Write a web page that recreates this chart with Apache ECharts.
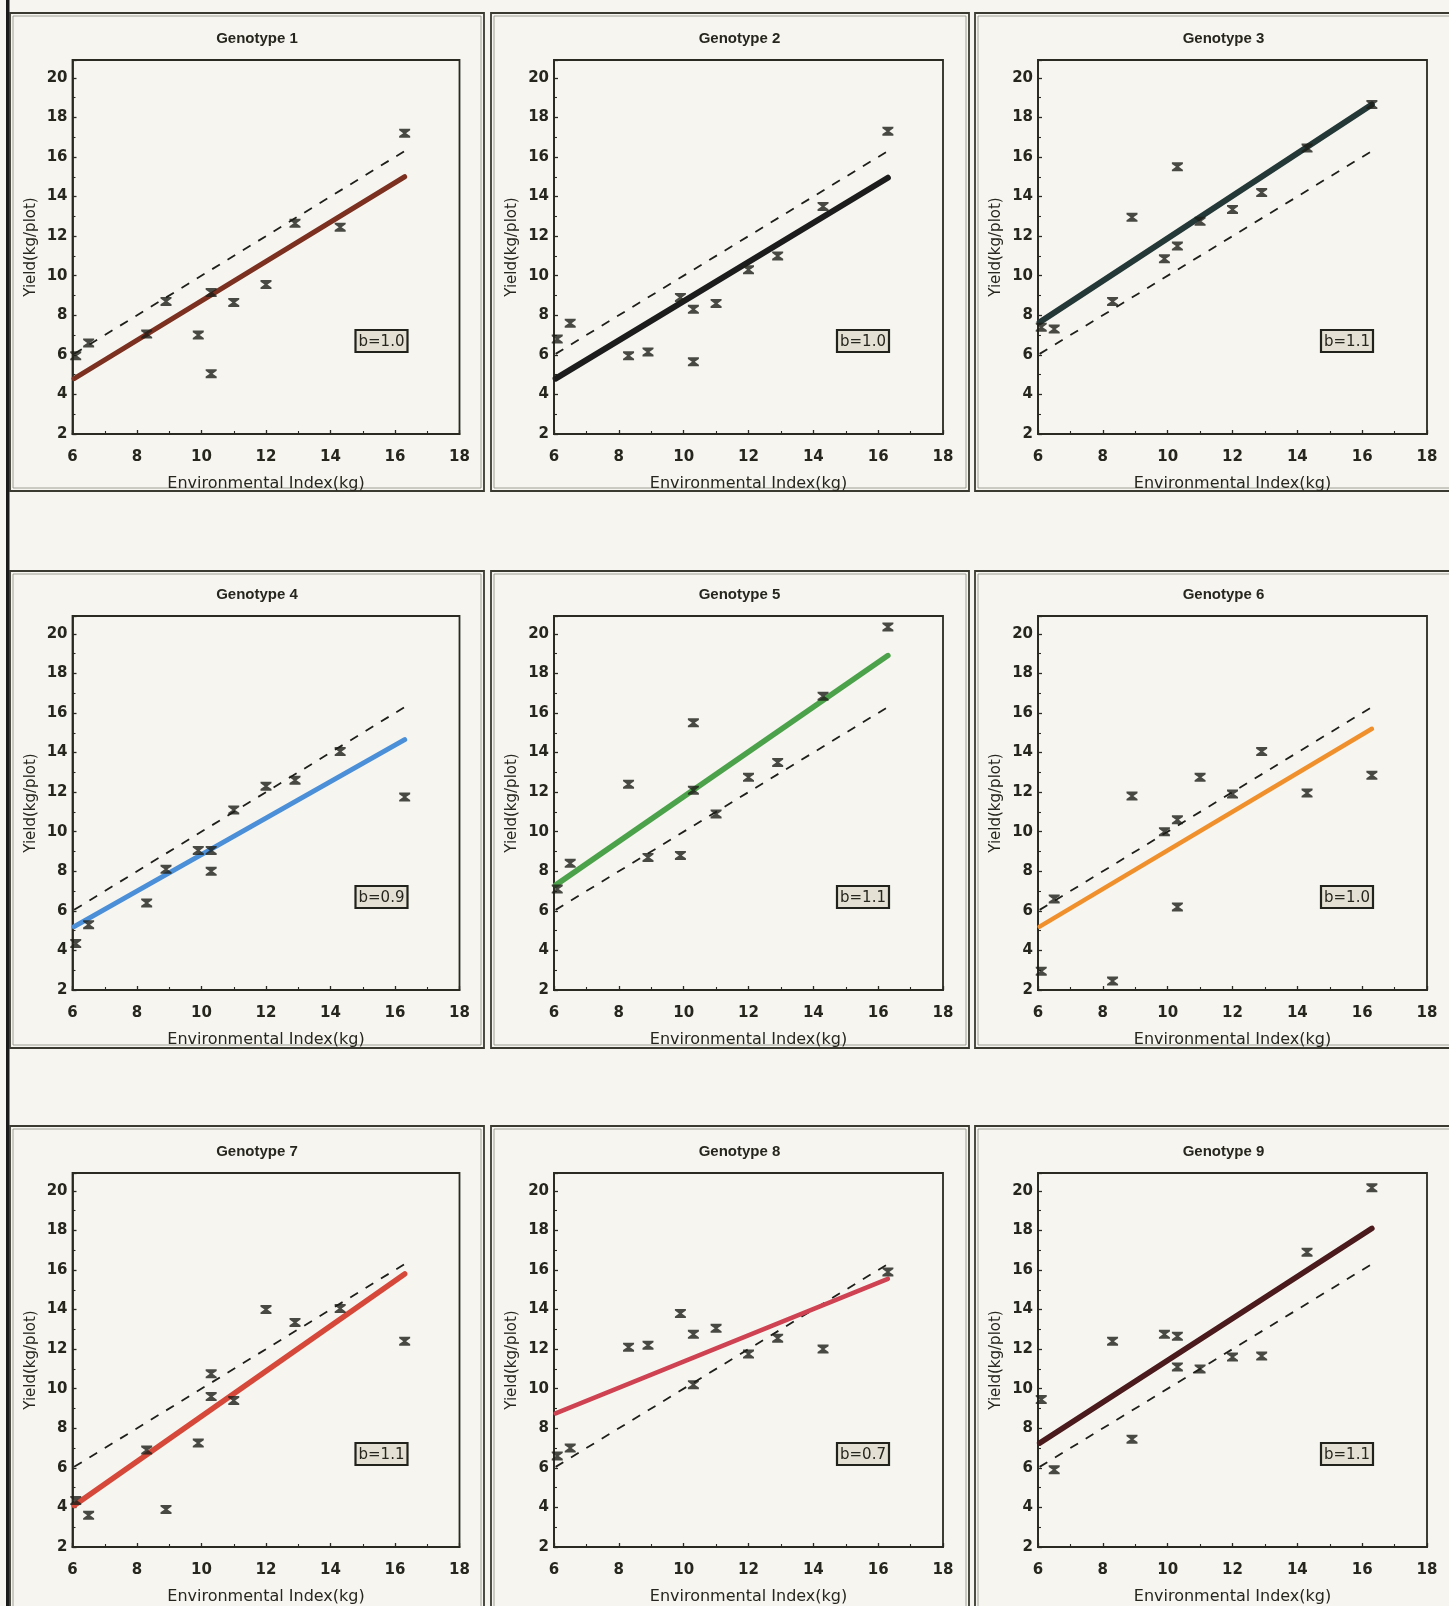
<!DOCTYPE html>
<html>
<head>
<meta charset="utf-8">
<script src="https://cdn.jsdelivr.net/npm/echarts@6/dist/echarts.min.js"></script>
<style>
html,body{margin:0;padding:0;background:#f6f5f0;}
#chart{width:1449px;height:1606px;}
</style>
</head>
<body>
<div id="chart"></div>
<script>
// ---- data ----
const genotypes = ['Genotype 1','Genotype 2','Genotype 3','Genotype 4','Genotype 5','Genotype 6','Genotype 7','Genotype 8','Genotype 9'];
const envIndex = [6.1, 6.5, 8.3, 8.9, 9.9, 10.3, 10.3, 11.0, 12.0, 12.9, 14.3, 16.3];
const yieldG1 = [5.95, 6.6, 7.05, 8.7, 7.0, 5.05, 9.15, 8.65, 9.55, 12.65, 12.45, 17.2];
const yieldG2 = [6.8, 7.6, 5.95, 6.15, 8.9, 8.3, 5.65, 8.6, 10.3, 11.0, 13.5, 17.3];
const yieldG3 = [7.4, 7.3, 8.7, 12.95, 10.85, 11.5, 15.5, 12.75, 13.35, 14.2, 16.45, 18.65];
const yieldG4 = [4.35, 5.3, 6.4, 8.1, 9.05, 8.0, 9.05, 11.1, 12.3, 12.6, 14.05, 11.75];
const yieldG5 = [7.1, 8.4, 12.4, 8.7, 8.8, 12.1, 15.5, 10.9, 12.75, 13.5, 16.85, 20.35];
const yieldG6 = [2.95, 6.6, 2.45, 11.8, 10.0, 6.2, 10.6, 12.75, 11.9, 14.05, 11.95, 12.85];
const yieldG7 = [4.35, 3.6, 6.9, 3.9, 7.25, 9.6, 10.75, 9.4, 14.0, 13.35, 14.05, 12.4];
const yieldG8 = [6.6, 7.0, 12.1, 12.2, 13.8, 10.2, 12.75, 13.05, 11.75, 12.55, 12.0, 15.9];
const yieldG9 = [9.45, 5.9, 12.4, 7.45, 12.75, 11.1, 12.65, 11.0, 11.6, 11.65, 16.9, 20.15];
// regression line ends (x range of the lines, y at start and end)
const lineRange = [6.05, 16.3];
const fitStart = [4.8, 4.8, 7.65, 5.2, 7.3, 5.2, 4.1, 8.75, 7.25];
const fitEnd   = [15.0, 14.95, 18.65, 14.65, 18.9, 15.2, 15.8, 15.55, 18.1];
const bLabels = ['b=1.0','b=1.0','b=1.1','b=0.9','b=1.1','b=1.0','b=1.1','b=0.7','b=1.1'];
const xTickMin = 6, xTickMax = 18, xTickStep = 2;
const yTickMin = 2, yTickMax = 20.9, yTickStep = 2;
const xTitle = 'Environmental Index(kg)';
const yTitle = 'Yield(kg/plot)';

// ---- styling / layout ----
const yields = [yieldG1,yieldG2,yieldG3,yieldG4,yieldG5,yieldG6,yieldG7,yieldG8,yieldG9];
const lineColors = ['#7c3020','#1c1c1c','#243838','#4a8fd8','#4ca24a','#f0902c','#d6493a','#cf4252','#4a1a1c'];
const lineWidths = [5, 6, 6, 5, 5.5, 4.5, 5.5, 4.5, 5.5];
const colLefts = [72.5, 554, 1038];
const colWidths = [387, 389, 389];
const rowTops = [60, 616, 1173];
const gridH = 374;
const boxX = [[10,484],[491,969],[975,1455]];
const boxY = [[13,491],[571,1048],[1126,1612]];
const ink = '#2a2a22';
const hourglass = 'path://M0,0H10V1.8L6.3,5L10,8.2V10H0V8.2L3.7,5L0,1.8Z';

const grids=[], xAxes=[], yAxes=[], series=[], titles=[], graphics=[];

// left page bar
graphics.push({type:'rect', shape:{x:6,y:0,width:3.5,height:1606}, style:{fill:'#1a1a1a'}, silent:true});
// panel frames
for (let r=0;r<3;r++) for (let c=0;c<3;c++){
  const x0=boxX[c][0], x1=boxX[c][1], y0=boxY[r][0], y1=boxY[r][1];
  graphics.push({type:'rect', shape:{x:x0,y:y0,width:x1-x0,height:y1-y0}, style:{fill:'none',stroke:'#3a3a30',lineWidth:1.8}, silent:true});
  graphics.push({type:'rect', shape:{x:x0+3,y:y0+3,width:x1-x0-6,height:y1-y0-6}, style:{fill:'none',stroke:'#8a8a80',lineWidth:0.8}, silent:true});
}

for (let g=0; g<9; g++){
  const r = Math.floor(g/3), c = g%3;
  const left = colLefts[c], top = rowTops[r], w = colWidths[c];
  grids.push({left:left, top:top, width:w, height:gridH, show:true, borderColor:ink, borderWidth:1.8, backgroundColor:'transparent', containLabel:false});
  xAxes.push({
    gridIndex:g, type:'value', min:xTickMin, max:xTickMax, interval:xTickStep,
    name:xTitle, nameLocation:'middle', nameGap:42,
    nameTextStyle:{fontFamily:'DejaVu Sans', fontSize:16, color:'#26261e'},
    axisLine:{show:true, onZero:false, lineStyle:{color:ink, width:1.8}},
    axisTick:{show:true, inside:true, length:4, lineStyle:{color:ink, width:1.3}},
    minorTick:{show:true, splitNumber:2, length:3, lineStyle:{color:ink, width:1.1}},
    axisLabel:{fontFamily:'DejaVu Sans', fontWeight:'bold', fontSize:15, color:'#26261e', margin:16},
    splitLine:{show:false}
  });
  yAxes.push({
    gridIndex:g, type:'value', min:yTickMin, max:yTickMax, interval:yTickStep,
    name:yTitle, nameLocation:'middle', nameGap:34, nameRotate:90,
    nameTextStyle:{fontFamily:'DejaVu Sans', fontSize:15, color:'#26261e'},
    axisLine:{show:true, onZero:false, lineStyle:{color:ink, width:1.8}},
    axisTick:{show:true, inside:true, length:4, lineStyle:{color:ink, width:1.3}},
    minorTick:{show:true, splitNumber:2, length:3, lineStyle:{color:ink, width:1.1}},
    axisLabel:{fontFamily:'DejaVu Sans', fontWeight:'bold', fontSize:15, color:'#26261e', margin:5,
      showMaxLabel:false, formatter:v => (Math.abs(v-Math.round(v))<1e-6 ? String(Math.round(v)) : '')},
    splitLine:{show:false}
  });
  titles.push({
    text:genotypes[g], left:left + w/2 - 14, top:top - 34, textAlign:'center',
    textStyle:{fontFamily:'Liberation Sans', fontWeight:'bold', fontSize:15, color:'#26261e'}
  });
  // reference line (slope 1)
  series.push({
    type:'line', xAxisIndex:g, yAxisIndex:g, symbol:'none', silent:true, z:2,
    data:[[lineRange[0], lineRange[0]],[lineRange[1], lineRange[1]]],
    lineStyle:{color:'#1e1e1a', width:1.8, type:[9,9]}
  });
  // regression line
  series.push({
    type:'line', xAxisIndex:g, yAxisIndex:g, symbol:'none', silent:true, z:3,
    data:[[lineRange[0], fitStart[g]],[lineRange[1], fitEnd[g]]],
    lineStyle:{color:lineColors[g], width:lineWidths[g], cap:'round'}
  });
  // observations
  series.push({
    type:'scatter', xAxisIndex:g, yAxisIndex:g, z:4,
    symbol:hourglass, symbolSize:[11,9],
    itemStyle:{color:'#1e1e18'},
    data:envIndex.map((x,i)=>[x, yields[g][i]])
  });
  // slope label box
  const bx = left + 309, by = top + 281;
  graphics.push({type:'rect', shape:{x:bx-26, y:by-11, width:52, height:22},
    style:{fill:'#e4e1d4', stroke:'#22221c', lineWidth:2.2}, z:100, silent:true});
  graphics.push({type:'text', x:bx, y:by+1, z:101, silent:true,
    style:{text:bLabels[g], fontFamily:'DejaVu Sans', fontSize:15, fill:'#26261e', align:'center', verticalAlign:'middle'}});
}

const chart = echarts.init(document.getElementById('chart'), null, {renderer:'canvas'});
chart.setOption({
  backgroundColor:'#f6f5f0',
  animation:false,
  title:titles,
  grid:grids,
  xAxis:xAxes,
  yAxis:yAxes,
  series:series,
  graphic:graphics
});
</script>
</body>
</html>
